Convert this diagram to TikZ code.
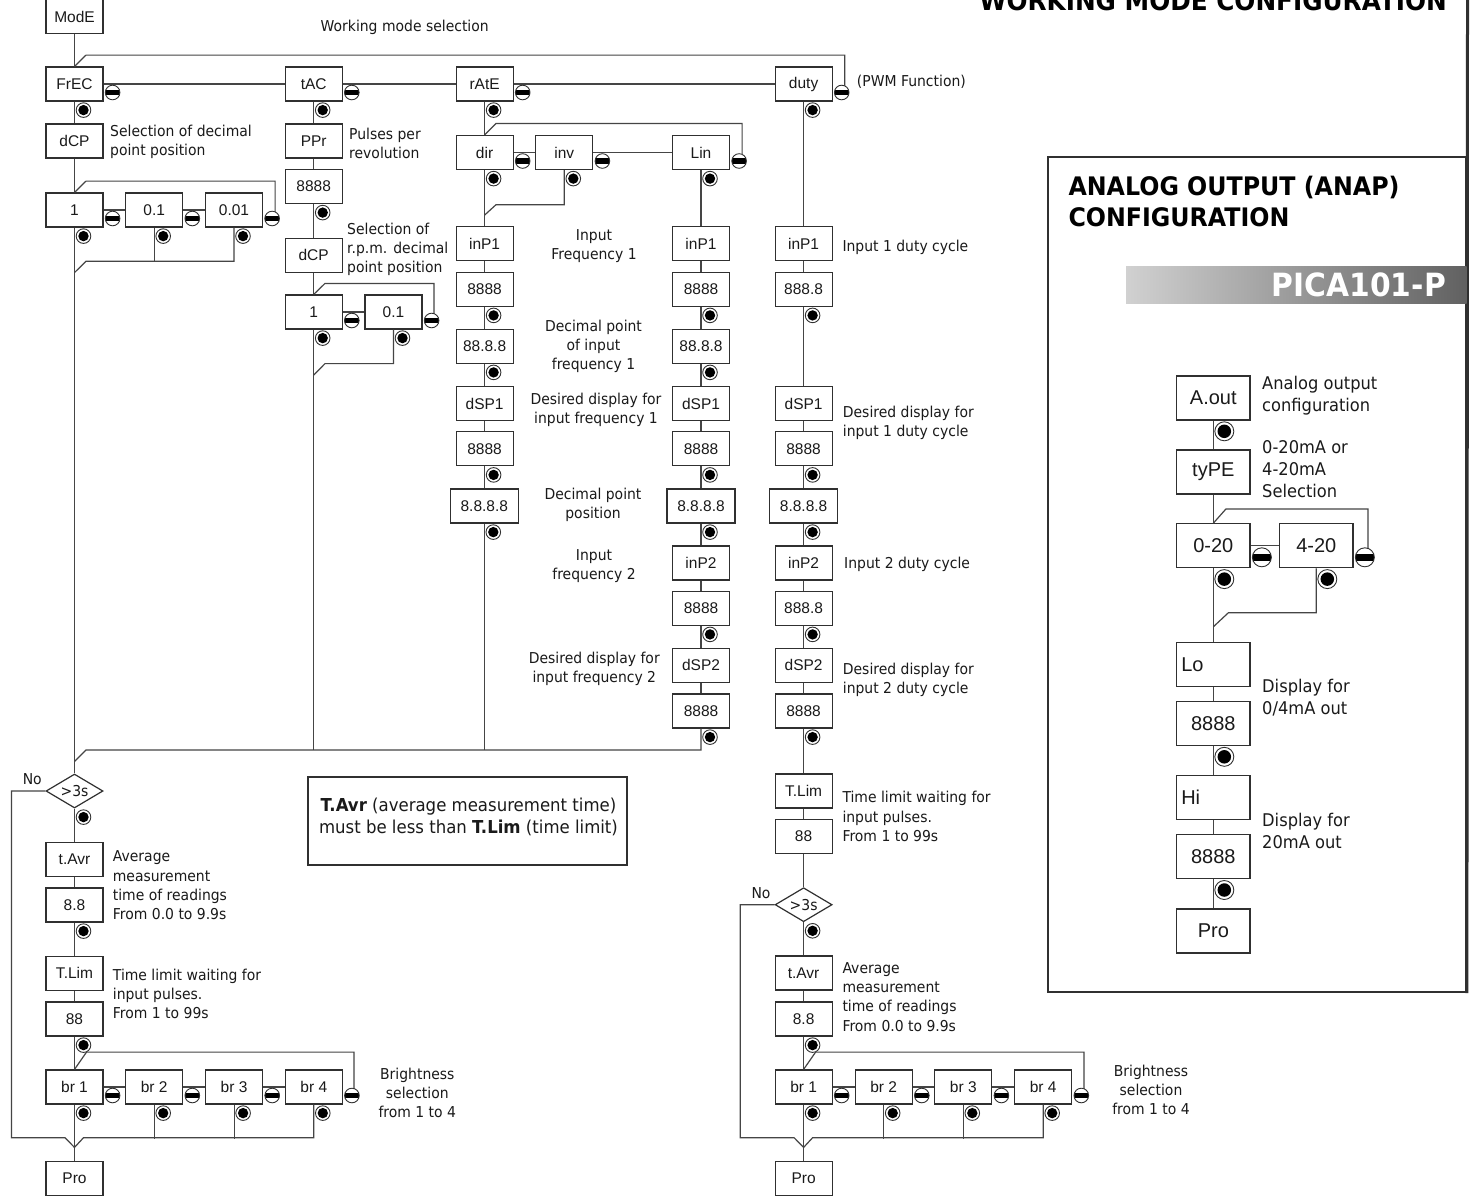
\documentclass[tikz,border=0pt]{standalone}
\usepackage{fontspec}
\usetikzlibrary{shapes.geometric,calc}
\newfontfamily\boxfont{Liberation Sans}
\newfontfamily\lblfont[FakeStretch=0.93]{DejaVu Sans}
\definecolor{lncol}{HTML}{454545}
\definecolor{boxcol}{HTML}{303030}
\definecolor{txtcol}{HTML}{1A1A1A}
\newcommand\bxf{\boxfont\fontsize{15.5}{18}\selectfont}
\newcommand\abxf{\boxfont\fontsize{20}{24}\selectfont}
\newcommand\lbf{\lblfont\fontsize{15}{19.2}\selectfont}
\newcommand\albf{\lblfont\fontsize{17.5}{22}\selectfont}
\newcommand\notef{\lblfont\fontsize{17.8}{22}\selectfont}
\newcommand\ttlf{\lblfont\bfseries\fontsize{25.5}{31.6}\selectfont}
\newcommand\wttlf{\lblfont\bfseries\fontsize{26.6}{31.6}\selectfont}
\newcommand\pcf{\lblfont\bfseries\fontsize{32}{36}\selectfont}
\tikzset{
 ln/.style={draw=lncol, line width=1.2pt},
 bx/.style={draw=boxcol, line width=1.2pt, minimum width=57pt, minimum height=34pt, inner sep=0pt, font=\bxf, text=txtcol},
 wbx/.style={bx, minimum width=68pt},
 abx/.style={bx, minimum width=73.3pt, minimum height=44pt, font=\abxf},
 dia/.style={diamond, aspect=1.7, draw=boxcol, line width=1.2pt, minimum width=57pt, minimum height=34pt, inner sep=0pt, font=\lbf, text=txtcol},
 lbl/.style={inner sep=0pt, font=\lbf, text=txtcol},
 lblL/.style={lbl, align=left, anchor=west},
 lblC/.style={lbl, align=center},
 albl/.style={inner sep=0pt, font=\albf, text=txtcol, align=left, anchor=west},
 entb/.pic={\fill[white] (0,0) circle (7.3); \draw[line width=0.9pt, boxcol] (0,0) circle (7.3); \fill[black] (0,0) circle (5.2);},
 minb/.pic={\fill[white] (0,0) circle (7.3); \begin{scope} \clip (0,0) circle (7.3); \fill[black] (-8,-2.7) rectangle (8,2.7); \end{scope} \draw[line width=0.9pt, boxcol] (0,0) circle (7.3);}
}
\newcommand\entB[1]{\pic at ($(#1.south)+(9,8.5)$) {entb};}
\newcommand\minB[1]{\pic at ($(#1.east)+(9,8.5)$) {minb};}
\newcommand\entA[1]{\pic[scale=1.3] at ($(#1.south)+(11,10.7)$) {entb};}
\newcommand\minA[1]{\pic[scale=1.3] at ($(#1.east)+(11.3,11.5)$) {minb};}
\begin{document}
\begin{tikzpicture}[x=1pt,y=-1pt]
\clip (0,0) rectangle (1477,1203);
\fill[white] (0,0) rectangle (1477,1203);
% ---------- titles ----------
\node[anchor=base east, inner sep=0pt, font=\wttlf, text=black] (ttlwm) at (1447,10) {WORKING MODE CONFIGURATION};
\node[lblC] (wms) at (404.7,27.3) {Working mode selection};
% ---------- column 1 ----------
\node[bx] (mode) at (74.5,16.5) {ModE};
\node[bx] (frec) at (74.5,84) {FrEC};
\node[bx] (dcpa) at (74.5,141) {dCP};
\node[bx] (oa1) at (74.5,210) {1};
\node[bx] (oa2) at (154.2,210) {0.1};
\node[bx] (oa3) at (234,210) {0.01};
% ---------- column 2 ----------
\node[bx] (tac) at (313.7,84) {tAC};
\node[bx] (ppr) at (313.7,141) {PPr};
\node[bx] (pprv) at (313.7,186.5) {8888};
\node[bx] (dcpb) at (313.7,255.2) {dCP};
\node[bx] (ob1) at (313.7,312) {1};
\node[bx] (ob2) at (393.5,312) {0.1};
% ---------- column 3 ----------
\node[bx] (rate) at (484.6,84) {rAtE};
\node[bx] (dir) at (484.6,152.5) {dir};
\node[bx] (inv) at (564.3,152.5) {inv};
\node[bx] (lin) at (701,152.5) {Lin};
\node[bx] (ca1) at (484.6,243.8) {inP1};
\node[bx] (ca2) at (484.6,289.3) {8888};
\node[bx] (ca3) at (484.6,346.3) {88.8.8};
\node[bx] (ca4) at (484.6,403.7) {dSP1};
\node[bx] (ca5) at (484.6,448.8) {8888};
\node[wbx] (ca6) at (484.3,506) {8.8.8.8};
% ---------- column 4 ----------
\node[bx] (cb1) at (701,243.8) {inP1};
\node[bx] (cb2) at (701,289.3) {8888};
\node[bx] (cb3) at (701,346.3) {88.8.8};
\node[bx] (cb4) at (701,403.7) {dSP1};
\node[bx] (cb5) at (701,448.8) {8888};
\node[wbx] (cb6) at (701,506) {8.8.8.8};
\node[bx] (cb7) at (701,563) {inP2};
\node[bx] (cb8) at (701,608.3) {8888};
\node[bx] (cb9) at (701,665.3) {dSP2};
\node[bx] (cb10) at (701,711) {8888};
% ---------- column 5 ----------
\node[bx] (duty) at (803.6,84) {duty};
\node[bx] (cc1) at (803.6,243.8) {inP1};
\node[bx] (cc2) at (803.6,289.3) {888.8};
\node[bx] (cc3) at (803.6,403.7) {dSP1};
\node[bx] (cc4) at (803.6,448.8) {8888};
\node[wbx] (cc5) at (803.6,506) {8.8.8.8};
\node[bx] (cc6) at (803.6,563) {inP2};
\node[bx] (cc7) at (803.6,608.3) {888.8};
\node[bx] (cc8) at (803.6,665.3) {dSP2};
\node[bx] (cc9) at (803.6,711) {8888};
\node[bx] (cc10) at (803.6,791) {T.Lim};
\node[bx] (cc11) at (803.6,836.3) {88};
\node[dia] (dgb) at (803.6,904.7) {>3s};
\node[bx] (cc12) at (803.6,973) {t.Avr};
\node[bx] (cc13) at (803.6,1019) {8.8};
\node[bx] (brb1) at (803.6,1087) {br 1};
\node[bx] (brb2) at (883.7,1087) {br 2};
\node[bx] (brb3) at (963.3,1087) {br 3};
\node[bx] (brb4) at (1043.2,1087) {br 4};
\node[bx] (prob) at (803.6,1178.7) {Pro};
% ---------- lower column 1 ----------
\node[dia] (dga) at (74.5,791) {>3s};
\node[bx] (la1) at (74.5,859.3) {t.Avr};
\node[bx] (la2) at (74.5,905) {8.8};
\node[bx] (la3) at (74.5,973.3) {T.Lim};
\node[bx] (la4) at (74.5,1019) {88};
\node[bx] (bra1) at (74.5,1087) {br 1};
\node[bx] (bra2) at (154.2,1087) {br 2};
\node[bx] (bra3) at (234.1,1087) {br 3};
\node[bx] (bra4) at (313.8,1087) {br 4};
\node[bx] (proa) at (74.5,1178.7) {Pro};
% ---------- note ----------
\node[draw=boxcol, line width=2pt, minimum width=318.7pt, minimum height=88.3pt, inner sep=0pt] (notebox) at (467.7,820.8) {};
\node[inner sep=0pt, font=\notef, text=txtcol, align=center] (notetxt) at (468.5,817) {\textbf{T.Avr} (average measurement time)\\must be less than \textbf{T.Lim} (time limit)};
% ---------- labels ----------
\node[lblL] (l2) at (110,141.8) {Selection of decimal\\point position};
\node[lblL] (l3) at (349,143.7) {Pulses per\\revolution};
\node[lblL] (l4) at (347,249.2) {Selection of\\r.p.m. decimal\\point position};
\node[lblC] (l5) at (594,246.3) {Input\\Frequency 1};
\node[lblL] (l6) at (842.3,247.7) {Input 1 duty cycle};
\node[lblC] (l7) at (593.5,346.2) {Decimal point\\of input\\frequency 1};
\node[lblC] (l8) at (596,410) {Desired display for\\input frequency 1};
\node[lblL] (l9) at (842.7,422.5) {Desired display for\\input 1 duty cycle};
\node[lblC] (l10) at (593,505) {Decimal point\\position};
\node[lblC] (l11) at (594,566) {Input\\frequency 2};
\node[lblL] (l12) at (844,564) {Input 2 duty cycle};
\node[lblC] (l13) at (594.3,668.5) {Desired display for\\input frequency 2};
\node[lblL] (l14) at (842.7,680) {Desired display for\\input 2 duty cycle};
\node[lblL] (l15) at (856.7,82) {(PWM Function)};
\node[lblC] (l16) at (32.3,779) {No};
\node[lblL] (l17) at (112.7,885.3) {Average\\measurement\\time of readings\\From 0.0 to 9.9s};
\node[lblL] (l18) at (112.7,993.8) {Time limit waiting for\\input pulses.\\From 1 to 99s};
\node[lblC] (l19) at (417.3,1092.7) {Brightness\\selection\\from 1 to 4};
\node[lblL] (l20) at (842.3,816.4) {Time limit waiting for\\input pulses.\\From 1 to 99s};
\node[lblC] (l21) at (761,892.7) {No};
\node[lblL] (l22) at (842.3,997) {Average\\measurement\\time of readings\\From 0.0 to 9.9s};
\node[lblC] (l23) at (1151,1090) {Brightness\\selection\\from 1 to 4};
% ---------- analog panel ----------
\node[draw=boxcol, line width=1.8pt, minimum width=417.7pt, minimum height=835.6pt, inner sep=0pt] (anbox) at (1257.15,574.5) {};
\draw[boxcol, line width=3pt] (1467.5,0) -- (anbox.north east |- 0,993);
\node[inner sep=0pt, font=\ttlf, text=black, align=left, anchor=west] (anttl) at (1068.3,201.5) {ANALOG OUTPUT (ANAP)\\CONFIGURATION};
\shade[left color=black!18, right color=black!62] (1126,266) rectangle (1466.5,303.7);
\node[anchor=east, inner sep=0pt, font=\pcf, text=white] (pica) at (1446,285) {PICA101-P};
\node[abx] (aout) at (1213.3,398) {A.out};
\node[abx] (atyp) at (1213.3,472) {tyPE};
\node[abx] (a020) at (1213.3,545.8) {0-20};
\node[abx] (a420) at (1316.3,545.8) {4-20};
\node[abx] (alo) at (1213.3,664.3) {};
\node[anchor=west, inner sep=0pt, font=\abxf, text=txtcol] (alot) at ($(alo.west)+(5,0)$) {Lo};
\node[abx] (alov) at (1213.3,723.5) {8888};
\node[abx] (ahi) at (1213.3,797.3) {};
\node[anchor=west, inner sep=0pt, font=\abxf, text=txtcol] (ahit) at ($(ahi.west)+(5,0)$) {Hi};
\node[abx] (ahiv) at (1213.3,856.7) {8888};
\node[abx] (apro) at (1213.3,931) {Pro};
\node[albl] (a1) at (1262,395.8) {Analog output\\configuration};
\node[albl] (a2) at (1262,469.3) {0-20mA or\\4-20mA\\Selection};
\node[albl] (a3) at (1262,697.2) {Display for\\0/4mA out};
\node[albl] (a4) at (1262,831) {Display for\\20mA out};
% ---------- connectors ----------
\coordinate (mline) at (0,750);
% top
\draw[ln] (mode) -- (frec);
\draw[ln] (frec.north) -- ++(11.5,-11.3) -| ($(duty.east)+(12,1.9)$);
\draw[ln] (frec) -- (tac);
\draw[ln] (tac) -- (rate);
\draw[ln] (rate) -- (duty);
% col 1
\draw[ln] (frec) -- (dcpa);
\draw[ln] (dcpa) -- (oa1);
\draw[ln] (oa1.north) -- ++(11.5,-11.3) -| ($(oa3.east)+(12,1.9)$);
\draw[ln] (oa1) -- (oa2);
\draw[ln] (oa2) -- (oa3);
\coordinate (ja) at ($(oa1.south)+(0,45)$);
\draw[ln] (oa3.south) |- ($(ja)+(11.5,-11.3)$) -- (ja);
\draw[ln] (oa2.south) -- ++(0,33.7);
\draw[ln] (oa1) -- (dga);
% col 2
\draw[ln] (tac) -- (ppr);
\draw[ln] (ppr) -- (pprv);
\draw[ln] (pprv) -- (dcpb);
\draw[ln] (dcpb) -- (ob1);
\draw[ln] (ob1.north) -- ++(11.3,-11) -| ($(ob2.east)+(11.3,1.9)$);
\draw[ln] (ob1) -- (ob2);
\coordinate (jb) at ($(ob1.south)+(0,45.5)$);
\draw[ln] (ob2.south) |- ($(jb)+(11.3,-11.5)$) -- (jb);
\draw[ln] (ob1.south) -- (ob1.south |- mline);
% col 3
\draw[ln] (rate) -- (dir);
\draw[ln] (dir.north) -- ++(11.5,-11.5) -| ($(lin.east)+(12,1.9)$);
\draw[ln] (dir) -- (inv);
\draw[ln] (inv) -- (lin);
\coordinate (jc) at ($(dir.south)+(0,45)$);
\draw[ln] (inv.south) |- ($(jc)+(11.3,-10.3)$) -- (jc);
\draw[ln] (dir) -- (ca1);
\draw[ln] (ca1) -- (ca2);
\draw[ln] (ca2) -- (ca3);
\draw[ln] (ca3) -- (ca4);
\draw[ln] (ca4) -- (ca5);
\draw[ln] (ca5.south) -- (ca5.south |- ca6.north);
\draw[ln] (ca5.south |- ca6.south) -- (ca5.south |- mline);
% col 4
\draw[ln] (lin) -- (cb1);
\draw[ln] (cb1) -- (cb2);
\draw[ln] (cb2) -- (cb3);
\draw[ln] (cb3) -- (cb4);
\draw[ln] (cb4) -- (cb5);
\draw[ln] (cb5) -- (cb6);
\draw[ln] (cb6) -- (cb7);
\draw[ln] (cb7) -- (cb8);
\draw[ln] (cb8) -- (cb9);
\draw[ln] (cb9) -- (cb10);
\coordinate (jd) at (74.5,761.5);
\draw[ln] (cb10.south) |- ($(jd)+(11.5,-11.5)$) -- (jd);
% col 5
\draw[ln] (duty) -- (cc1);
\draw[ln] (cc1) -- (cc2);
\draw[ln] (cc2) -- (cc3);
\draw[ln] (cc3) -- (cc4);
\draw[ln] (cc4) -- (cc5);
\draw[ln] (cc5) -- (cc6);
\draw[ln] (cc6) -- (cc7);
\draw[ln] (cc7) -- (cc8);
\draw[ln] (cc8) -- (cc9);
\draw[ln] (cc9) -- (cc10);
\draw[ln] (cc10) -- (cc11);
\draw[ln] (cc11) -- (dgb);
\draw[ln] (dgb) -- (cc12);
\draw[ln] (cc12) -- (cc13);
\draw[ln] (cc13) -- (brb1);
\draw[ln] (brb1) -- (prob);
\draw[ln] (brb1.north) -- ++(12,-17.3) -| ($(brb4.east)+(11.6,1.9)$);
\draw[ln] (brb1) -- (brb2);
\draw[ln] (brb2) -- (brb3);
\draw[ln] (brb3) -- (brb4);
\coordinate (jf) at ($(prob.north)+(0,-13.7)$);
\draw[ln] (brb4.south) |- ($(jf)+(9,-9.7)$) -- (jf);
\draw[ln] (brb2.south) -- ++(0,34.3);
\draw[ln] (brb3.south) -- ++(0,34.3);
\draw[ln] (dgb.west) -- ++(-34.3,0) |- ($(jf)+(-9.5,-9.7)$) -- (jf);
% lower col 1
\draw[ln] (dga) -- (la1);
\draw[ln] (la1) -- (la2);
\draw[ln] (la2) -- (la3);
\draw[ln] (la3) -- (la4);
\draw[ln] (la4) -- (bra1);
\draw[ln] (bra1) -- (proa);
\draw[ln] (bra1.north) -- ++(12,-17.3) -| ($(bra4.east)+(11,1.9)$);
\draw[ln] (bra1) -- (bra2);
\draw[ln] (bra2) -- (bra3);
\draw[ln] (bra3) -- (bra4);
\coordinate (je) at ($(proa.north)+(0,-13.7)$);
\draw[ln] (bra4.south) |- ($(je)+(9,-9.7)$) -- (je);
\draw[ln] (bra2.south) -- ++(0,34.3);
\draw[ln] (bra3.south) -- ++(0,34.3);
\draw[ln] (dga.west) -- ++(-34,0) |- ($(je)+(-9.5,-9.7)$) -- (je);
% analog
\draw[ln] (aout) -- (atyp);
\draw[ln] (atyp) -- (a020);
\draw[ln] (a020.north) -- ++(12.7,-14.3) -| ($(a420.east)+(14.4,2.6)$);
\draw[ln] (a020) -- (a420);
\coordinate (jg) at ($(a020.south)+(0,58.4)$);
\draw[ln] (a420.south) |- ($(jg)+(15,-14)$) -- (jg);
\draw[ln] (a020) -- (alo);
\draw[ln] (alo) -- (alov);
\draw[ln] (alov) -- (ahi);
\draw[ln] (ahi) -- (ahiv);
\draw[ln] (ahiv) -- (apro);
% ---------- buttons ----------
\entB{frec} \entB{oa1} \entB{oa2} \entB{oa3}
\minB{frec} \minB{oa1} \minB{oa2} \minB{oa3}
\entB{tac} \entB{pprv} \entB{ob1} \entB{ob2}
\minB{tac} \minB{ob1} \minB{ob2}
\entB{rate} \entB{dir} \entB{inv} \entB{lin}
\minB{rate} \minB{dir} \minB{inv} \minB{lin}
\entB{ca2} \entB{ca3} \entB{ca5} \entB{ca6}
\entB{cb2} \entB{cb3} \entB{cb5} \entB{cb6} \entB{cb8} \entB{cb10}
\entB{duty} \minB{duty}
\entB{cc2} \entB{cc4} \entB{cc5} \entB{cc7} \entB{cc9}
\entB{dgb} \entB{cc13}
\entB{brb1} \entB{brb2} \entB{brb3} \entB{brb4}
\minB{brb1} \minB{brb2} \minB{brb3} \minB{brb4}
\entB{dga} \entB{la2} \entB{la4}
\entB{bra1} \entB{bra2} \entB{bra3} \entB{bra4}
\minB{bra1} \minB{bra2} \minB{bra3} \minB{bra4}
\entA{aout} \entA{a020} \entA{a420} \entA{alov} \entA{ahiv}
\minA{a020} \minA{a420}
\end{tikzpicture}
\end{document}
